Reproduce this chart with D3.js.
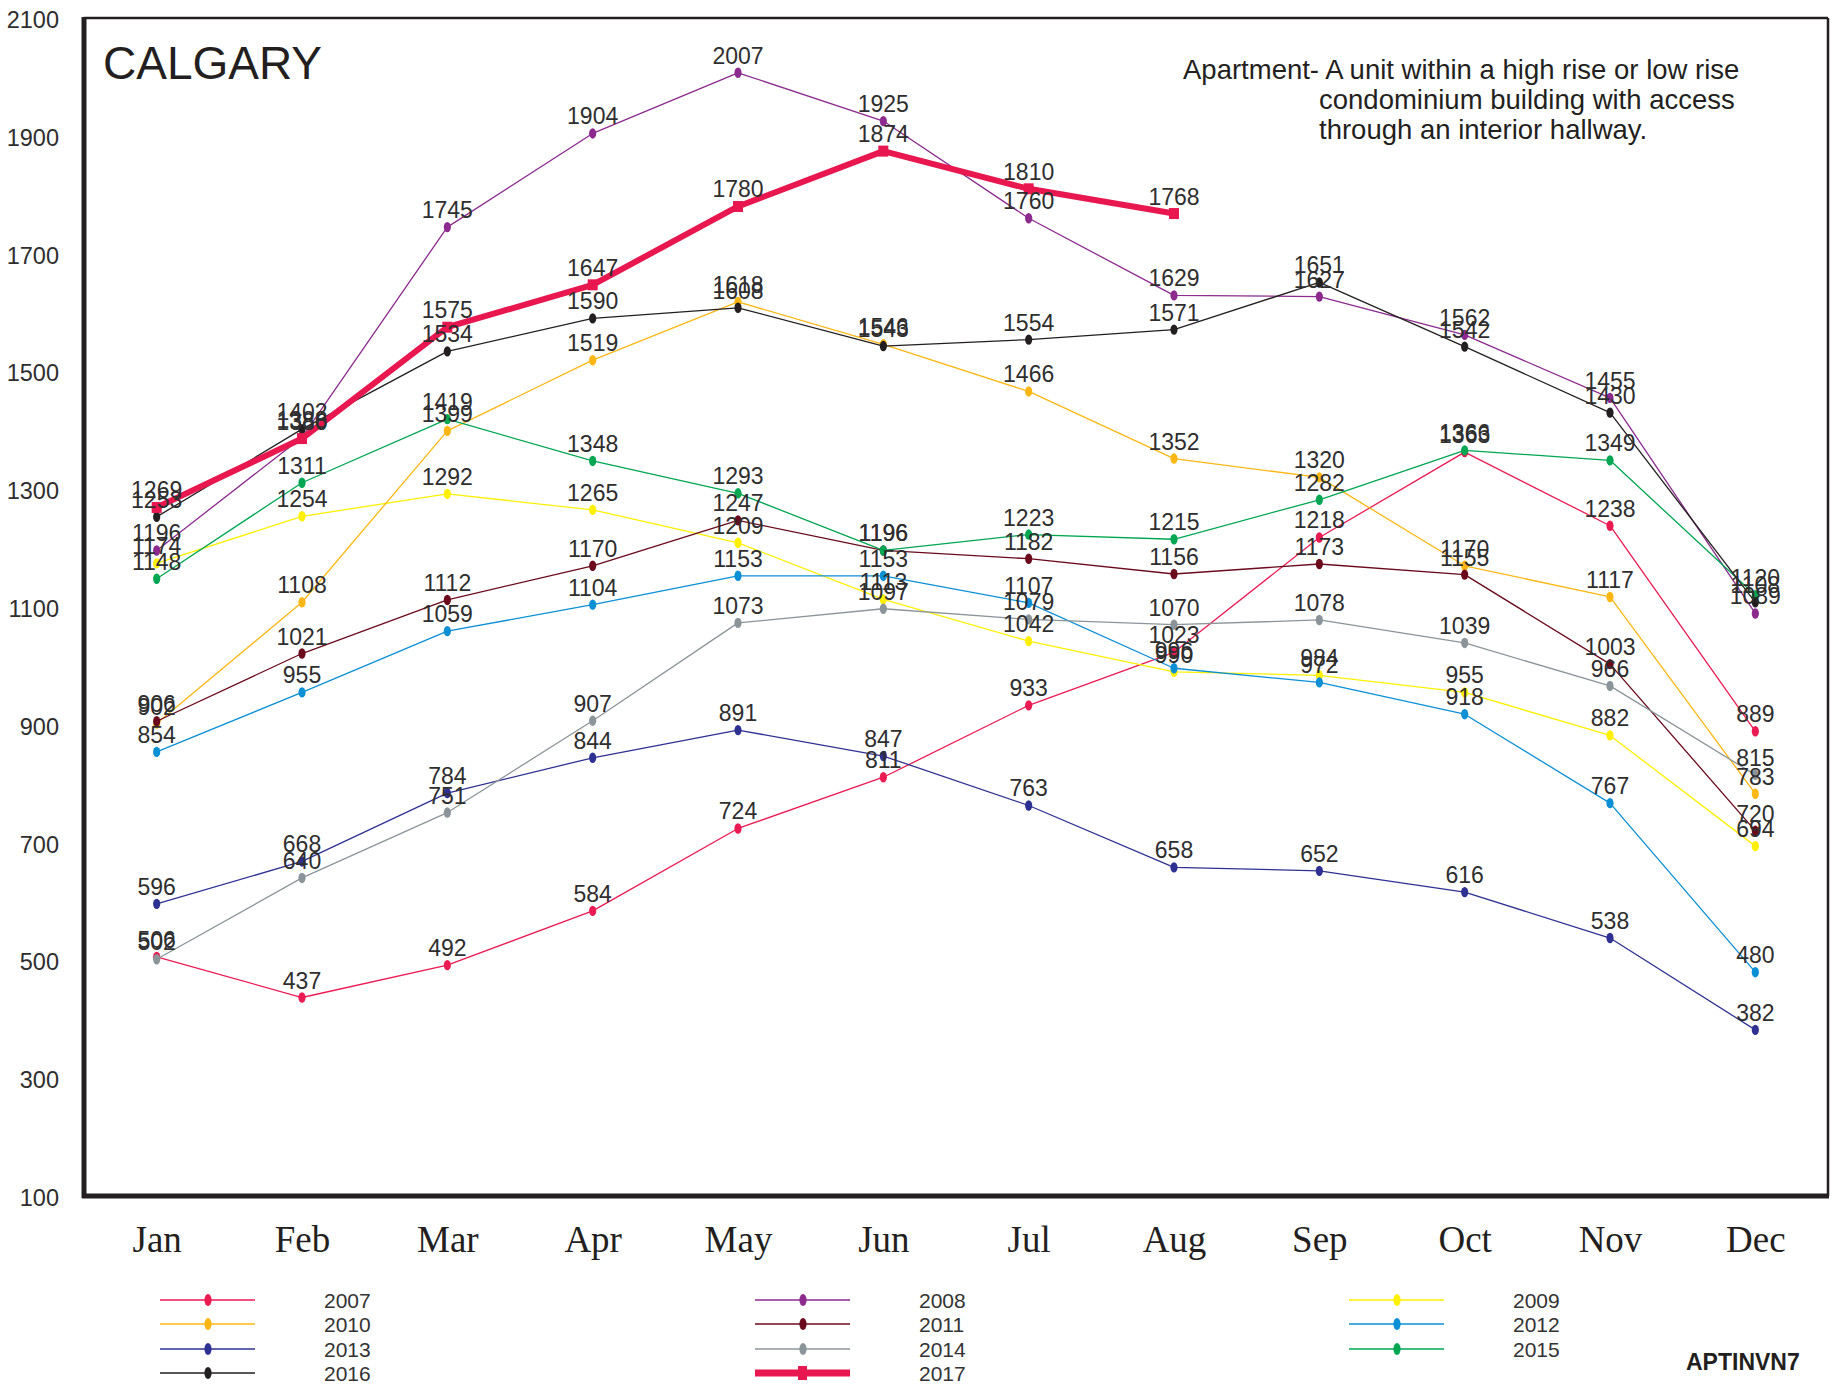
<!DOCTYPE html>
<meta charset="utf-8">
<title>Calgary - Apartment inventory</title>
<style>
    body {
        margin: 0;
        background: #fff;
    }

    svg {
        display: block;
        font-family: "Liberation Sans", Arial, sans-serif;
    }

    .val {
        font-size: 23px;
        fill: #2e2e2e;
        text-anchor: middle;
    }

    .yaxis text {
        font-size: 23.5px;
        fill: #2e2e2e;
    }

    .xaxis text {
        font-family: "Liberation Serif", "Times New Roman", serif;
        font-size: 37px;
        fill: #231f20;
    }

    .legend text {
        font-size: 21px;
        fill: #333;
    }
</style>

<body>
    <svg width="1835" height="1387"></svg>

    <script src="https://d3js.org/d3.v7.min.js"></script>
    <script>
        const months = ["Jan", "Feb", "Mar", "Apr", "May", "Jun", "Jul", "Aug", "Sep", "Oct", "Nov", "Dec"];
        const yTicks = [100, 300, 500, 700, 900, 1100, 1300, 1500, 1700, 1900, 2100];

        const y2007 = [506, 437, 492, 584, 724, 811, 933, 1023, 1218, 1363, 1238, 889];
        const y2008 = [1196, 1388, 1745, 1904, 2007, 1925, 1760, 1629, 1627, 1562, 1455, 1089];
        const y2009 = [1174, 1254, 1292, 1265, 1209, 1113, 1042, 990, 984, 955, 882, 694];
        const y2010 = [902, 1108, 1399, 1519, 1618, 1546, 1466, 1352, 1320, 1170, 1117, 783];
        const y2011 = [906, 1021, 1112, 1170, 1247, 1196, 1182, 1156, 1173, 1155, 1003, 720];
        const y2012 = [854, 955, 1059, 1104, 1153, 1153, 1107, 996, 972, 918, 767, 480];
        const y2013 = [596, 668, 784, 844, 891, 847, 763, 658, 652, 616, 538, 382];
        const y2014 = [502, 640, 751, 907, 1073, 1097, 1079, 1070, 1078, 1039, 966, 815];
        const y2015 = [1148, 1311, 1419, 1348, 1293, 1196, 1223, 1215, 1282, 1366, 1349, 1120];
        const y2016 = [1253, 1402, 1534, 1590, 1608, 1543, 1554, 1571, 1651, 1542, 1430, 1108];
        const y2017 = [1269, 1386, 1575, 1647, 1780, 1874, 1810, 1768];

        const years = ["2007", "2008", "2009", "2010", "2011", "2012", "2013", "2014", "2015", "2016", "2017"];
        const colors = ["#ea1a52", "#8c2a8e", "#fff000", "#fdb714", "#6a0a1c", "#0b8fd5",
            "#2e3192", "#8b9599", "#00a651", "#231f20", "#e8174f"];

        const series = [y2007, y2008, y2009, y2010, y2011, y2012, y2013, y2014, y2015, y2016, y2017]
            .map((vals, i) => ({ year: years[i], color: colors[i], vals: vals, bold: years[i] === "2017" }));

        const svg = d3.select("svg");
        const pLeft = 84, pRight = 1828, pTop = 18, pBottom = 1196;

        const x = d3.scalePoint().domain(months).range([pLeft, pRight]).padding(0.5);
        const y = d3.scaleLinear().domain([100, 2100]).range([pBottom, pTop]);

        // frame
        const frame = svg.append("g").attr("stroke", "#231f20").attr("fill", "none");
        frame.append("line").attr("x1", pLeft).attr("x2", pRight).attr("y1", pTop).attr("y2", pTop).attr("stroke-width", 2.5);
        frame.append("line").attr("x1", pRight).attr("x2", pRight).attr("y1", pTop).attr("y2", pBottom).attr("stroke-width", 2.5);
        frame.append("line").attr("x1", pLeft).attr("x2", pLeft).attr("y1", pTop - 1).attr("y2", pBottom + 2).attr("stroke-width", 5);
        frame.append("line").attr("x1", pLeft - 2).attr("x2", pRight + 1).attr("y1", pBottom).attr("y2", pBottom).attr("stroke-width", 5);

        // axes
        svg.append("g")
            .attr("class", "yaxis")
            .attr("transform", `translate(${pLeft},0)`)
            .call(d3.axisLeft(y).tickValues(yTicks).tickSize(0).tickPadding(25).tickFormat(d3.format("d")))
            .call(g => g.select(".domain").remove())
            .call(g => g.attr("font-family", null).attr("font-size", null))
            .selectAll("text").attr("dy", "0.4em");

        svg.append("g")
            .attr("class", "xaxis")
            .attr("transform", `translate(0,${pBottom})`)
            .call(d3.axisBottom(x).tickSize(0).tickPadding(30))
            .call(g => g.select(".domain").remove())
            .call(g => g.attr("font-family", null).attr("font-size", null));

        // titles
        svg.append("text").attr("x", 103).attr("y", 79)
            .attr("font-size", 46).attr("fill", "#231f20").text("CALGARY");

        const desc = svg.append("g").attr("font-size", 27.5).attr("fill", "#231f20");
        desc.append("text").attr("x", 1183).attr("y", 79).text("Apartment- A unit within a high rise or low rise");
        desc.append("text").attr("x", 1319).attr("y", 109).text("condominium building with access");
        desc.append("text").attr("x", 1319).attr("y", 139).text("through an interior hallway.");

        svg.append("text").attr("x", 1686).attr("y", 1370)
            .attr("font-size", 23).attr("font-weight", "bold").attr("fill", "#231f20").text("APTINVN7");

        // lines
        const line = d3.line().x((d, i) => x(months[i])).y(d => y(d));

        const plot = svg.append("g");
        series.forEach(s => {
            const g = plot.append("g");
            g.append("path")
                .attr("d", line(s.vals))
                .attr("fill", "none")
                .attr("stroke", s.color)
                .attr("stroke-width", s.bold ? 6 : 1.3)
                .attr("stroke-linejoin", "round");

            if (s.bold) {
                g.selectAll("rect").data(s.vals).join("rect")
                    .attr("x", (d, i) => x(months[i]) - 5)
                    .attr("y", d => y(d) - 5.5)
                    .attr("width", 10).attr("height", 11)
                    .attr("fill", s.color);
            } else {
                g.selectAll("ellipse").data(s.vals).join("ellipse")
                    .attr("cx", (d, i) => x(months[i]))
                    .attr("cy", d => y(d))
                    .attr("rx", 3.6).attr("ry", 5.2)
                    .attr("fill", s.color);
            }
        });

        // value labels
        series.forEach(s => {
            plot.append("g").selectAll("text").data(s.vals).join("text")
                .attr("class", "val")
                .attr("x", (d, i) => x(months[i]))
                .attr("y", d => y(d) - 9)
                .text(d => d);
        });

        // legend
        const legCols = [160, 755, 1349];
        const legRows = [1300, 1324, 1349, 1373];
        const legend = svg.append("g").attr("class", "legend");
        series.forEach((s, i) => {
            const lx = legCols[i % 3], ly = legRows[Math.floor(i / 3)];
            const g = legend.append("g").attr("transform", `translate(${lx},${ly})`);
            g.append("line").attr("x1", 0).attr("x2", 95)
                .attr("stroke", s.color)
                .attr("stroke-width", s.bold ? 7 : 1.8)
                .attr("stroke-opacity", s.bold ? 1 : 0.75);
            if (s.bold) {
                g.append("rect").attr("x", 43).attr("y", -7).attr("width", 9).attr("height", 14).attr("fill", s.color);
            } else {
                g.append("ellipse").attr("cx", 48).attr("rx", 3.6).attr("ry", 6).attr("fill", s.color);
            }
            g.append("text").attr("x", 164).attr("dy", "0.36em").text(s.year);
        });
    </script>
</body>

</html>
